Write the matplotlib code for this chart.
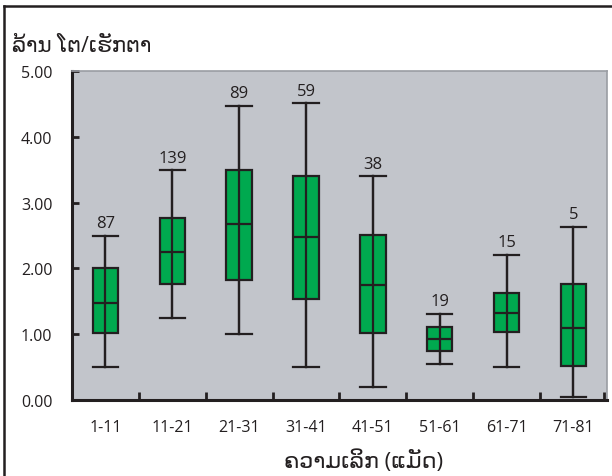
import matplotlib
matplotlib.use("Agg")
import matplotlib.pyplot as plt
from matplotlib.lines import Line2D

# Depth classes and box statistics (million per hectare)
categories = ["1-11", "11-21", "21-31", "31-41", "41-51", "51-61", "61-71", "71-81"]
whisker_low = [0.50, 1.24, 1.00, 0.50, 0.20, 0.54, 0.50, 0.04]
q1 = [1.02, 1.77, 1.82, 1.53, 1.02, 0.75, 1.03, 0.52]
median = [1.48, 2.25, 2.68, 2.47, 1.75, 0.92, 1.32, 1.10]
q3 = [2.00, 2.76, 3.49, 3.41, 2.51, 1.11, 1.63, 1.77]
whisker_high = [2.50, 3.49, 4.47, 4.51, 3.40, 1.31, 2.21, 2.63]
counts = [87, 139, 89, 59, 38, 19, 15, 5]
y_ticks = [0, 1, 2, 3, 4, 5]

plt.rcParams["font.family"] = ["Open Sans", "DejaVu Sans"]

fig = plt.figure(figsize=(6.12, 4.77), dpi=100)
ax = fig.add_axes([0.1176, 0.1593, 0.874, 0.6897])

stats = []
for i, c in enumerate(categories):
    stats.append(dict(label=c, whislo=whisker_low[i], q1=q1[i], med=median[i],
                      q3=q3[i], whishi=whisker_high[i], fliers=[]))

edge = "#231f20"
positions = list(range(1, len(categories) + 1))
ax.bxp(stats, positions=positions, widths=0.38, patch_artist=True,
       showfliers=False,
       boxprops=dict(facecolor="#00a94f", edgecolor=edge, linewidth=1.6),
       medianprops=dict(color=edge, linewidth=1.6),
       whiskerprops=dict(color=edge, linewidth=1.6),
       capprops=dict(color=edge, linewidth=1.6),
       capwidths=0.38)

# vertical line through each box
for p, lo, hi in zip(positions, whisker_low, whisker_high):
    ax.plot([p, p], [lo, hi], color=edge, linewidth=1.6, zorder=3)

for p, hi, n in zip(positions, whisker_high, counts):
    ax.text(p, hi + 0.07, str(n), ha="center", va="bottom", fontsize=12,
            color="#231f20")

ax.set_facecolor("#c2c5cb")
ax.set_xlim(0.5, len(categories) + 0.5)
ax.set_ylim(0, 5)
ax.set_yticks(y_ticks)
ax.set_yticklabels([f"{v:.2f}" for v in y_ticks], fontsize=11.5)
ax.set_xticks(positions)
ax.set_xticklabels(categories, fontsize=11.5)
ax.set_xticks([p + 0.5 for p in positions[:-1]] + [len(categories) + 0.45], minor=True)
ax.tick_params(axis="x", which="major", length=0, pad=14, colors="#231f20")
ax.tick_params(axis="x", which="minor", direction="in", length=6, width=2,
               color="#231f20")
ax.tick_params(axis="y", direction="in", length=5, width=2, pad=14,
               color="#231f20", labelcolor="#231f20")

for s in ("left", "bottom"):
    ax.spines[s].set_color("#231f20")
    ax.spines[s].set_linewidth(2.2)
for s in ("top", "right"):
    ax.spines[s].set_color("#9a9da3")
    ax.spines[s].set_linewidth(1.2)

fig.text(12 / 612, 1 - 47 / 477, "ລ້ານ ໂຕ/ເຮັກຕາ", fontsize=15.5, ha="left",
         va="center", color="#231f20")
fig.text(364 / 612, 1 - 462 / 477, "ຄວາມເລິກ (ແມັດ)", fontsize=16, ha="center",
         va="center", color="#231f20")

# outer frame lines
fig.add_artist(Line2D([4 / 612, 4 / 612], [0, 1 - 7 / 477], color="#231f20",
                      linewidth=1.8, transform=fig.transFigure))
fig.add_artist(Line2D([4 / 612, 1], [1 - 7 / 477, 1 - 7 / 477], color="#231f20",
                      linewidth=1.8, transform=fig.transFigure))

fig.savefig("out.png", dpi=100)
